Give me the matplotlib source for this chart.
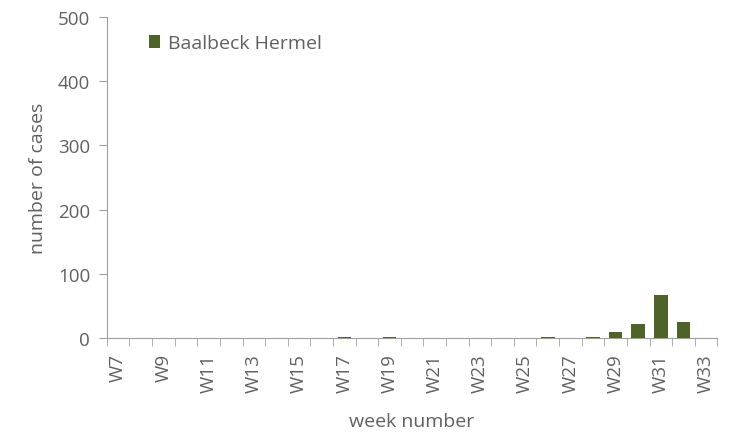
import numpy as np
import matplotlib.pyplot as plt

plt.rcParams['font.family'] = ['Open Sans', 'DejaVu Sans']

weeks = ["W%d" % w for w in range(7, 34)]
cases = [0, 0, 0, 0, 0, 0, 0, 0, 0, 0, 2, 0, 2, 0, 0, 0, 0, 0, 0, 2, 0, 2, 9, 22, 67, 25, 0]
series_name = "Baalbeck Hermel"

fig = plt.figure(figsize=(7.32, 4.39), dpi=100)
ax = fig.add_axes([0.146, 0.228, 0.834, 0.731])

x = np.arange(len(weeks))
ax.bar(x, cases, width=0.6, color='#4f6228', label=series_name, zorder=3)

ax.set_xlim(-0.5, len(weeks) - 0.5)
ax.set_ylim(0, 500)
ax.set_yticks([0, 100, 200, 300, 400, 500])
ax.set_xticks(x[::2])
ax.set_xticklabels(weeks[::2], rotation=90)
ax.set_xticks(np.arange(-0.5, len(weeks), 1), minor=True)

gray = '#a0a0a0'
txt = '#606060'
for s in ['top', 'right']:
    ax.spines[s].set_visible(False)
for s in ['left', 'bottom']:
    ax.spines[s].set_color(gray)
ax.tick_params(axis='x', which='major', length=0, colors=txt, labelsize=13.5, pad=11)
ax.tick_params(axis='x', which='minor', length=6, color=gray)
ax.tick_params(axis='y', length=6, color=gray, labelcolor=txt, labelsize=13.5, pad=6)

ax.set_ylabel("number of cases", color=txt, fontsize=14, labelpad=8)
ax.set_xlabel("week number", color=txt, fontsize=14, labelpad=14)

ax.legend(loc='upper left', bbox_to_anchor=(0.04, 1.0), frameon=False, fontsize=14,
          handlelength=0.6, handleheight=0.6, handletextpad=0.4, labelcolor=txt)

fig.savefig("out.png", dpi=100)
